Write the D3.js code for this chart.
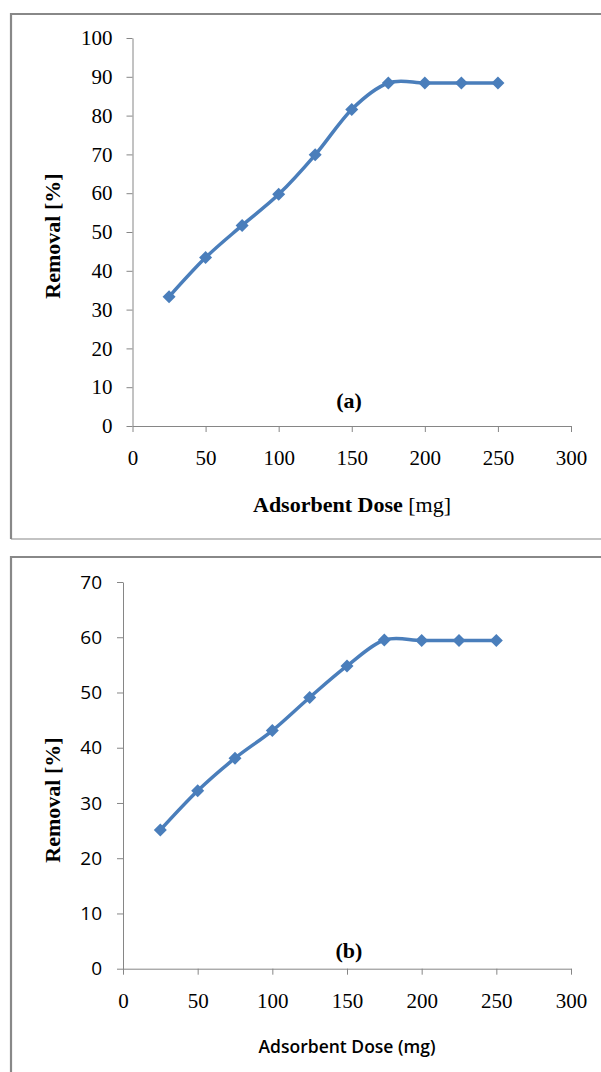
<!DOCTYPE html>
<html><head><meta charset="utf-8">
<script src="https://cdn.jsdelivr.net/npm/d3@7"></script>
<style>html,body{margin:0;padding:0;background:#fff;}svg{display:block;}</style>
</head><body>
<svg id="c" width="601" height="1072"></svg>
<script>
const doses = [25, 50, 75, 100, 125, 150, 175, 200, 225, 250];
const removalA = [33.3, 43.4, 51.7, 59.7, 69.9, 81.6, 88.4, 88.4, 88.4, 88.4];
const removalB = [25.1, 32.2, 38.1, 43.1, 49.1, 54.8, 59.5, 59.4, 59.4, 59.4];
const xTicks = [0, 50, 100, 150, 200, 250, 300];
const yTicksA = [0, 10, 20, 30, 40, 50, 60, 70, 80, 90, 100];
const yTicksB = [0, 10, 20, 30, 40, 50, 60, 70];

const svg = d3.select("#c");
const blue = "#4a7ebb", grey = "#868686";
const serif = "'Liberation Serif','Times New Roman',serif";
const sans = "'Open Sans','Noto Sans',sans-serif";

// frames
svg.append("path").attr("d", "M11,539 L11,14 L602,14").attr("fill","none").attr("stroke","#888").attr("stroke-width",2.2);
svg.append("line").attr("x1",11).attr("x2",602).attr("y1",539).attr("y2",539).attr("stroke","#888").attr("stroke-width",1.2);
svg.append("path").attr("d", "M11,1075 L11,557 L602,557").attr("fill","none").attr("stroke","#888").attr("stroke-width",2.2);

function panel(cfg) {
  const x = d3.scaleLinear().domain([0,300]).range([cfg.x0, 571]);
  const y = d3.scaleLinear().domain([0, cfg.ymax]).range([cfg.y0, cfg.y1]);
  const g = svg.append("g");
  // y axis
  const ya = g.append("g").attr("transform", `translate(${cfg.x0},0)`)
    .call(d3.axisLeft(y).tickValues(cfg.yTicks).tickSize(6).tickPadding(cfg.yPad).tickSizeOuter(0));
  ya.select(".domain").attr("stroke", grey);
  ya.selectAll(".tick line").attr("stroke", grey);
  ya.selectAll("text").attr("font-family", cfg.yFont).attr("font-size", cfg.yFs).attr("fill","#000");
  // x axis
  const xa = g.append("g").attr("transform", `translate(0,${cfg.y0})`)
    .call(d3.axisBottom(x).tickValues(xTicks).tickSize(6).tickPadding(cfg.xPad).tickSizeOuter(0));
  xa.select(".domain").attr("stroke", grey);
  xa.selectAll(".tick line").attr("stroke", grey);
  xa.selectAll("text").attr("font-family", serif).attr("font-size", 21).attr("fill","#000");
  // line
  const line = d3.line().x((d,i)=>x(doses[i])).y(d=>y(d)).curve(d3.curveCardinal.tension(0));
  g.append("path").attr("d", line(cfg.vals)).attr("fill","none").attr("stroke",blue).attr("stroke-width",3.5);
  const r = 6.5;
  g.selectAll(".m").data(cfg.vals).join("path")
    .attr("d", (d,i)=>{const cx=x(doses[i]), cy=y(d); return `M${cx},${cy-r}L${cx+r},${cy}L${cx},${cy+r}L${cx-r},${cy}Z`;})
    .attr("fill", blue);
  // titles
  g.append("text").attr("transform", `translate(${cfg.ytx},${cfg.yty}) rotate(-90)`)
    .attr("text-anchor","middle").attr("dominant-baseline","central")
    .attr("font-family", serif).attr("font-weight","bold").attr("font-size",22).text("Removal [%]");
  cfg.xTitle(g);
  g.append("text").attr("x", 349).attr("y", cfg.labY).attr("text-anchor","middle").attr("dominant-baseline","central")
    .attr("font-family", serif).attr("font-weight","bold").attr("font-size",22).text(cfg.label);
}

panel({x0:132.5, y0:426, y1:38, ymax:100, yTicks:yTicksA, yFont:serif, yFs:21, xPad:18, yPad:14,
  vals: removalA, ytx:52, yty:236, labY:400, label:"(a)",
  xTitle: g => {
    const t = g.append("text").attr("x",352).attr("y",504).attr("text-anchor","middle").attr("dominant-baseline","central")
      .attr("font-family", serif).attr("font-size",22);
    t.append("tspan").attr("font-weight","bold").text("Adsorbent Dose ");
    t.append("tspan").text("[mg]");
  }});

panel({x0:123, y0:968.7, y1:582, ymax:70, yTicks:yTicksB, yFont:sans, yFs:19, xPad:18, yPad:15,
  vals: removalB, ytx:52, yty:800, labY:950, label:"(b)",
  xTitle: g => {
    g.append("text").attr("x",347).attr("y",1046).attr("text-anchor","middle").attr("dominant-baseline","central")
      .attr("font-family", sans).attr("font-weight",600).attr("font-size",17.5).text("Adsorbent Dose (mg)");
  }});
</script>
</body></html>
